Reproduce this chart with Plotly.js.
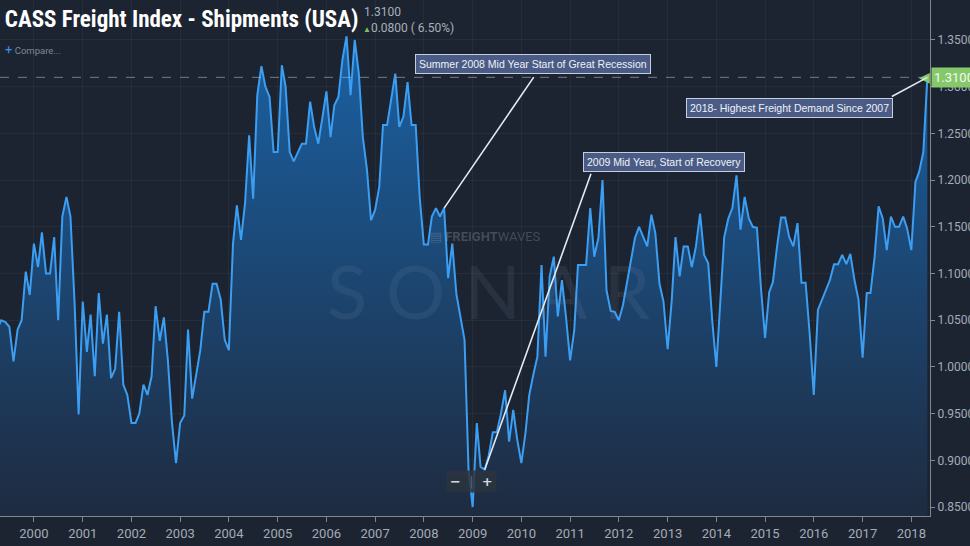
<!DOCTYPE html>
<html>
<head>
<meta charset="utf-8">
<script src="https://cdn.plot.ly/plotly-3.0.1.min.js"></script>
<style>
  html, body { margin: 0; padding: 0; background: #1c2431; }
  #chart { width: 970px; height: 546px; }
</style>
</head>
<body>
<div id="chart"></div>
<script>
// ---- Data (monthly CASS Freight Index - Shipments) ----
const firstMonth = '1999-04';
const shipments = [
  /* 1999 Apr-Dec */ 1.040, 1.050, 1.048, 1.043, 1.006, 1.040, 1.050, 1.102, 1.077,
  /* 2000 */ 1.132, 1.107, 1.144, 1.100, 1.100, 1.139, 1.050, 1.161, 1.182, 1.161, 1.068, 0.949,
  /* 2001 */ 1.070, 1.016, 1.056, 0.990, 1.079, 1.025, 1.056, 0.988, 0.998, 1.059, 0.981, 0.970,
  /* 2002 */ 0.940, 0.940, 0.950, 0.981, 0.970, 0.990, 1.065, 1.028, 1.053, 1.007, 0.940, 0.897,
  /* 2003 */ 0.940, 0.948, 1.040, 0.966, 0.990, 1.018, 1.059, 1.059, 1.089, 1.089, 1.072, 1.029,
  /* 2004 */ 1.018, 1.132, 1.173, 1.136, 1.175, 1.248, 1.180, 1.291, 1.322, 1.300, 1.289, 1.230,
  /* 2005 */ 1.230, 1.323, 1.300, 1.230, 1.220, 1.229, 1.239, 1.239, 1.284, 1.257, 1.239, 1.266,
  /* 2006 */ 1.295, 1.246, 1.280, 1.289, 1.329, 1.354, 1.291, 1.350, 1.314, 1.246, 1.211, 1.157,
  /* 2007 */ 1.168, 1.193, 1.259, 1.259, 1.284, 1.314, 1.257, 1.268, 1.305, 1.259, 1.259, 1.182,
  /* 2008 */ 1.131, 1.131, 1.161, 1.170, 1.161, 1.170, 1.095, 1.132, 1.078, 1.052, 1.029, 0.890,
  /* 2009 */ 0.850, 0.940, 0.893, 0.890, 0.905, 0.930, 0.930, 0.950, 0.975, 0.920, 0.954, 0.922,
  /* 2010 */ 0.897, 0.930, 0.970, 0.992, 1.011, 1.109, 1.011, 1.097, 1.118, 1.054, 1.093, 1.054,
  /* 2011 */ 1.007, 1.039, 1.109, 1.109, 1.109, 1.170, 1.118, 1.138, 1.200, 1.082, 1.060, 1.059,
  /* 2012 */ 1.050, 1.066, 1.089, 1.118, 1.138, 1.150, 1.139, 1.129, 1.163, 1.143, 1.089, 1.070,
  /* 2013 */ 1.019, 1.072, 1.139, 1.097, 1.129, 1.129, 1.107, 1.129, 1.164, 1.120, 1.111, 1.050,
  /* 2014 */ 1.000, 1.070, 1.139, 1.159, 1.170, 1.205, 1.147, 1.182, 1.159, 1.150, 1.149, 1.085,
  /* 2015 */ 1.031, 1.080, 1.091, 1.129, 1.160, 1.160, 1.139, 1.129, 1.154, 1.090, 1.090, 1.036,
  /* 2016 */ 0.970, 1.061, 1.072, 1.082, 1.093, 1.110, 1.110, 1.120, 1.110, 1.121, 1.093, 1.072,
  /* 2017 */ 1.010, 1.079, 1.079, 1.118, 1.172, 1.159, 1.125, 1.161, 1.150, 1.150, 1.161, 1.148,
  /* 2018 */ 1.125, 1.198, 1.209, 1.230, 1.310
];
const yearTicks = ['2000','2001','2002','2003','2004','2005','2006','2007','2008','2009',
                   '2010','2011','2012','2013','2014','2015','2016','2017','2018'];
const titleText = 'CASS Freight Index - Shipments (USA)';
const lastText = '1.3100';
const changeText = '0.0800 ( 6.50%)';
const noteRecession = 'Summer 2008 Mid Year Start of Great Recession';
const noteRecovery = '2009 Mid Year, Start of Recovery';
const note2018 = '2018- Highest Freight Demand Since 2007';
const recessionMonth = '2008-06-01';
const recoveryMonth = '2009-04-01';

// ---- Build monthly dates ----
const dates = [];
{
  let y = parseInt(firstMonth.slice(0, 4), 10);
  let m = parseInt(firstMonth.slice(5, 7), 10);
  for (let i = 0; i < shipments.length; i++) {
    dates.push(y + '-' + String(m).padStart(2, '0') + '-01');
    m++; if (m > 12) { m = 1; y++; }
  }
}
const valAt = d => shipments[dates.indexOf(d)];
const lastDate = dates[dates.length - 1];
const lastVal = shipments[shipments.length - 1];

const gridC = 'rgba(255,255,255,0.045)';
const axisC = '#7f8793';
const tickFont = { family: 'Roboto, sans-serif', size: 13, color: '#a4abb6' };
const boxStyle = {
  bgcolor: 'rgba(76,94,136,0.97)', bordercolor: '#c5cde0', borderwidth: 1, borderpad: 3,
  font: { family: 'Liberation Sans, Arial, sans-serif', size: 10.5, color: '#eef1f7' },
  showarrow: false, xref: 'paper', yref: 'paper', xanchor: 'center', yanchor: 'middle'
};
const arrowStyle = {
  text: ' ', font: { size: 1 }, showarrow: true, arrowhead: 0, arrowwidth: 1.6,
  arrowcolor: '#e4e9f2', axref: 'pixel', ayref: 'pixel', standoff: 0, startstandoff: 0
};

const trace = {
  type: 'scatter', mode: 'lines', x: dates, y: shipments,
  line: { color: '#3c9ef2', width: 2 },
  fill: 'tozeroy',
  fillgradient: {
    type: 'vertical', start: 0.84, stop: 1.36,
    colorscale: [[0, 'rgb(30,43,64)'], [1, 'rgb(26,98,165)']]
  },
  hoverinfo: 'skip'
};

const layout = {
  width: 970, height: 546,
  margin: { l: 0, r: 40, t: 0, b: 30, pad: 0 },
  paper_bgcolor: '#1c2431', plot_bgcolor: '#1c2431',
  showlegend: false,
  title: {
    text: '<b>' + titleText + '</b>',
    x: 0.005, xanchor: 'left', xref: 'container',
    y: 0.966, yanchor: 'middle', yref: 'container',
    font: { family: 'Roboto Condensed, Liberation Sans Narrow, DejaVu Sans Condensed, Roboto, sans-serif', size: 23, color: '#ffffff' }
  },
  xaxis: {
    type: 'date', range: ['1999-04-22', '2018-05-21'],
    tickmode: 'array',
    tickvals: yearTicks.map(y => y + '-01-01'), ticktext: yearTicks,
    ticks: 'outside', ticklen: 5, tickcolor: axisC, tickwidth: 1,
    showline: true, linecolor: axisC, linewidth: 1,
    showgrid: true, gridcolor: gridC, gridwidth: 1,
    zeroline: false, tickfont: tickFont, fixedrange: true
  },
  yaxis: {
    side: 'right', range: [0.8404, 1.3928],
    tick0: 0.85, dtick: 0.05, tickformat: '.4f',
    ticks: 'outside', ticklen: 4, tickcolor: axisC,
    showline: true, linecolor: axisC, linewidth: 1,
    showgrid: true, gridcolor: gridC, zeroline: false,
    tickfont: { family: 'Roboto, sans-serif', size: 12, color: '#a4abb6' }, fixedrange: true
  },
  shapes: [
    { type: 'line', xref: 'paper', x0: 0, x1: 1, yref: 'y', y0: lastVal, y1: lastVal,
      line: { color: 'rgba(190,195,200,0.55)', width: 1, dash: 'dash' }, layer: 'above' }
  ],
  annotations: [
    // header texts
    { xref: 'paper', yref: 'paper', x: 362 / 930, y: 1 - 12 / 516, xanchor: 'left', yanchor: 'middle',
      text: lastText, showarrow: false, font: { family: 'Roboto, sans-serif', size: 12, color: '#a9b0ba' } },
    { xref: 'paper', yref: 'paper', x: 361 / 930, y: 1 - 28 / 516, xanchor: 'left', yanchor: 'middle',
      text: '<span style="color:#78c25a;font-size:8px">▲</span>' + changeText, showarrow: false,
      font: { family: 'Roboto, sans-serif', size: 12, color: '#a9b0ba' } },
    { xref: 'paper', yref: 'paper', x: 3 / 930, y: 1 - 50 / 516, xanchor: 'left', yanchor: 'middle',
      text: '<span style="color:#3d8fe8;font-size:13px">+</span> Compare...', showarrow: false,
      font: { family: 'Roboto, sans-serif', size: 9.5, color: '#7f8995' } },
    // watermark
    { xref: 'paper', yref: 'paper', x: 485 / 930, y: 1 - 237 / 516, xanchor: 'center', yanchor: 'middle',
      text: '▤ <b>FREIGHT</b>WAVES', showarrow: false,
      font: { family: 'Roboto, sans-serif', size: 13, color: 'rgba(170,180,195,0.28)' } },
    { xref: 'paper', yref: 'paper', x: 488 / 930, y: 1 - 290 / 516, xanchor: 'center', yanchor: 'middle',
      text: 'S O N A R', showarrow: false,
      font: { family: 'Lato, Roboto, sans-serif', size: 74, color: 'rgba(150,170,200,0.10)' } },
    // zoom buttons
    { xref: 'paper', yref: 'paper', x: 471 / 930, y: 1 - 481 / 516, xanchor: 'center', yanchor: 'middle',
      text: '<b>−</b>  <span style="color:#5a6270">|</span>  <b>+</b>', showarrow: false,
      bgcolor: 'rgba(44,52,64,0.85)', borderpad: 3,
      font: { family: 'DejaVu Sans, sans-serif', size: 13, color: '#d5d9df' } },
    // green last-value tag
    { xref: 'paper', yref: 'y', x: 931 / 930, y: lastVal, xanchor: 'left', yanchor: 'middle',
      text: lastText, showarrow: false, bgcolor: '#86c96b', borderpad: 2,
      font: { family: 'Roboto, sans-serif', size: 13, color: '#f2f9ee' } },
    { xref: 'paper', yref: 'y', x: 932 / 930, y: lastVal, xanchor: 'right', yanchor: 'middle',
      text: '◀', showarrow: false, font: { family: 'DejaVu Sans, sans-serif', size: 14, color: '#86c96b' } },
    // callout arrows
    Object.assign({ xref: 'x', yref: 'y', x: recessionMonth, y: valAt(recessionMonth), ax: 91, ay: -133 }, arrowStyle),
    Object.assign({ xref: 'x', yref: 'y', x: recoveryMonth, y: valAt(recoveryMonth), ax: 107, ay: -298 }, arrowStyle),
    Object.assign({ xref: 'x', yref: 'y', x: lastDate, y: lastVal, ax: -37, ay: 20 }, arrowStyle),
    // callout boxes
    Object.assign({ x: 533 / 930, y: 1 - 64 / 516, text: noteRecession }, boxStyle),
    Object.assign({ x: 664 / 930, y: 1 - 161.5 / 516, text: noteRecovery }, boxStyle),
    Object.assign({ x: 789 / 930, y: 1 - 107.5 / 516, text: note2018 }, boxStyle)
  ]
};

Plotly.newPlot('chart', [trace], layout, { displayModeBar: false, staticPlot: true });
</script>
</body>
</html>
